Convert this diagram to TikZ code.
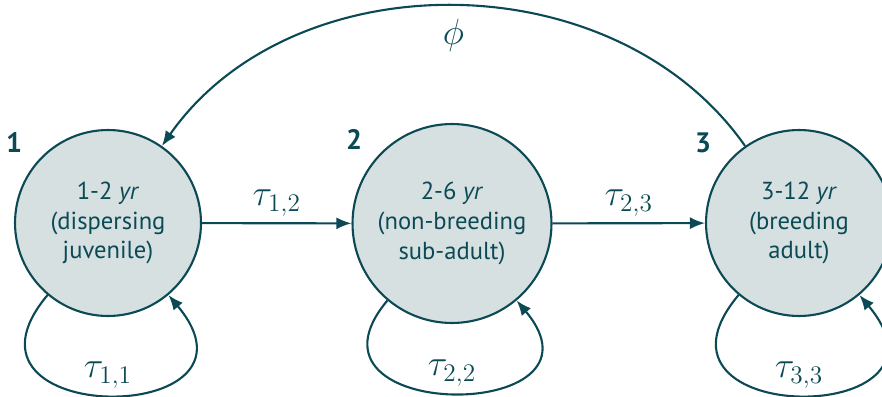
\documentclass[tikz,border=0pt]{standalone}
\usepackage{fontspec}
\setmainfont{PT Sans}
\usetikzlibrary{positioning,arrows.meta}

\definecolor{stageline}{HTML}{0B4A55}
\definecolor{stagefill}{HTML}{D6E0E1}

\begin{document}
\begin{tikzpicture}[x=0.02cm, y=0.02cm,
  stage/.style={circle, draw=stageline, fill=stagefill, line width=1.2pt, minimum size=3.72cm,
                inner sep=0pt, font=\fontsize{14}{17}\selectfont, text=stageline, align=center},
  num/.style={font=\fontsize{16}{18}\selectfont\bfseries, text=stageline, inner sep=0pt},
  rate/.style={font=\fontsize{21}{25}\selectfont, text=stageline},
  arrow/.style={-{Latex[length=3mm, width=2.4mm]}, line width=1.2pt, draw=stageline},
]
\useasboundingbox (0,0) rectangle (882,396);

% life stages
\node[stage] (s1) at (108,173) {1-2 \textit{yr}\\(dispersing\\juvenile)};
\node[stage, minimum size=3.98cm] (s2) at (452,172.5) {2-6 \textit{yr}\\(non-breeding\\sub-adult)};
\node[stage] (s3) at (799,173) {3-12 \textit{yr}\\(breeding\\adult)};

\node[num, above left=0.07cm and 0.38cm of s1.north west] (n1) {1};
\node[num, above left=0.06cm and 0.37cm of s2.north west] (n2) {2};
\node[num, above left=0.06cm and 0.42cm of s3.north west] (n3) {3};

% transitions
\draw[arrow] (s1) -- node[rate, above] {$\tau_{1,2}$} (s2);
\draw[arrow] (s2) -- node[rate, above] {$\tau_{2,3}$} (s3);
\draw[arrow] (s3) to[bend right=55] node[rate, below=0.12cm] {$\phi$} (s1);

% staying in a stage
\draw[arrow] (s1.230) to[out=230, in=310, looseness=3.7] node[rate, above] {$\tau_{1,1}$} (s1.310);
\draw[arrow] (s2.230) to[out=230, in=310, looseness=3.2] node[rate, above] {$\tau_{2,2}$} (s2.310);
\draw[arrow] (s3.230) to[out=230, in=310, looseness=3.7] node[rate, above] {$\tau_{3,3}$} (s3.310);

\end{tikzpicture}
\end{document}
